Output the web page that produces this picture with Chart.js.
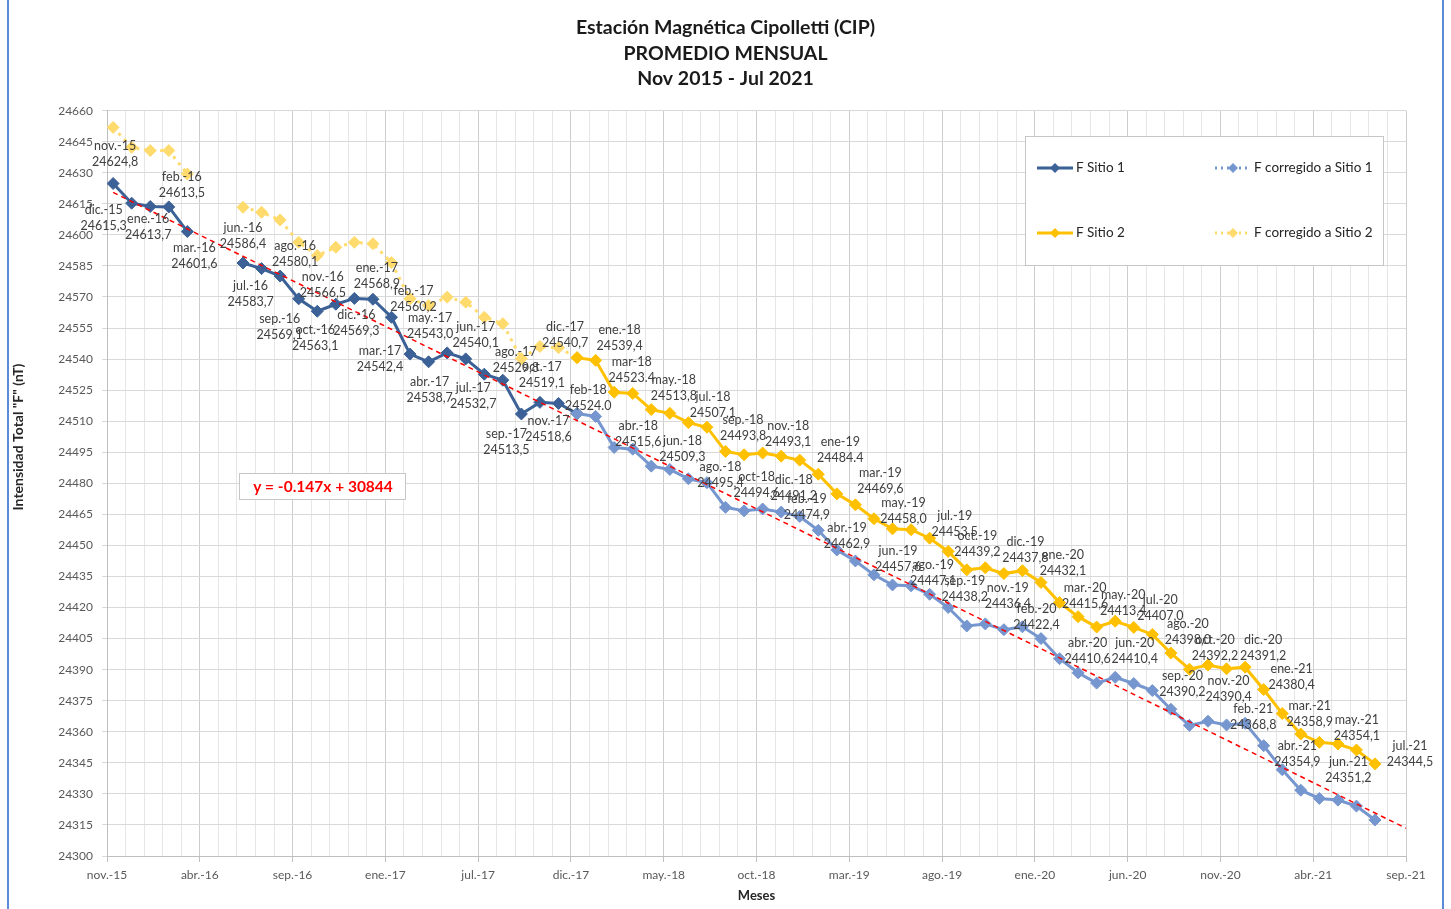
<!DOCTYPE html>
<html lang="es">
<head>
<meta charset="utf-8">
<title>Estación Magnética Cipolletti (CIP)</title>
<script src="https://cdn.jsdelivr.net/npm/chart.js@4.4.1/dist/chart.umd.min.js"></script>
<style>
  html, body { margin: 0; padding: 0; background: #fff; }
  #wrap { position: relative; width: 1451px; height: 909px; overflow: hidden; }
  #frame {
    position: absolute; left: 7px; top: -3px; width: 1437px; height: 915px;
    border: 2px solid #5b8bd6; box-sizing: border-box; pointer-events: none;
  }
</style>
</head>
<body>
<div id="wrap">
  <canvas id="chart" width="1451" height="909"></canvas>
  <div id="frame"></div>
</div>
<script>
// x axis tick labels (every 5 months, starting nov.-15)
const tickLabels = ['nov.-15', 'abr.-16', 'sep.-16', 'ene.-17', 'jul.-17', 'dic.-17', 'may.-18',
  'oct.-18', 'mar.-19', 'ago.-19', 'ene.-20', 'jun.-20', 'nov.-20', 'abr.-21', 'sep.-21'];

// month names used in the point labels (nov.-15 .. jul.-21)
const months = ['nov.-15', 'dic.-15', 'ene.-16', 'feb.-16', 'mar.-16', 'abr.-16', 'may.-16', 'jun.-16',
  'jul.-16', 'ago.-16', 'sep.-16', 'oct.-16', 'nov.-16', 'dic.-16', 'ene.-17', 'feb.-17', 'mar.-17',
  'abr.-17', 'may.-17', 'jun.-17', 'jul.-17', 'ago.-17', 'sep.-17', 'oct.-17', 'nov.-17', 'dic.-17',
  'ene.-18', 'feb-18', 'mar-18', 'abr.-18', 'may.-18', 'jun.-18', 'jul.-18', 'ago.-18', 'sep.-18',
  'oct-18', 'nov.-18', 'dic.-18', 'ene-19', 'feb.-19', 'mar.-19', 'abr.-19', 'may.-19', 'jun.-19',
  'jul.-19', 'ago.-19', 'sep.-19', 'oct.-19', 'nov.-19', 'dic.-19', 'ene.-20', 'feb.-20', 'mar.-20',
  'abr.-20', 'may.-20', 'jun.-20', 'jul.-20', 'ago.-20', 'sep.-20', 'oct.-20', 'nov.-20', 'dic.-20',
  'ene.-21', 'feb.-21', 'mar.-21', 'abr.-21', 'may.-21', 'jun.-21', 'jul.-21'];

const N = null;
const sitio1 = [24624.8, 24615.3, 24613.7, 24613.5, 24601.6, N, N, 24586.4, 24583.7, 24580.1,
  24569.1, 24563.1, 24566.5, 24569.3, 24568.9, 24560.2, 24542.4, 24538.7, 24543.0, 24540.1,
  24532.7, 24529.8, 24513.5, 24519.1, 24518.6, 24513.7];

const corregido2 = [24651.9, 24642.3, 24640.7, 24640.7, 24629.4, N, N, 24613.3, 24610.9, 24607.2,
  24596.4, 24590.0, 24594.0, 24596.4, 24595.7, 24586.6, 24569.1, 24565.9, 24569.9, 24567.5,
  24560.2, 24557.1, 24540.2, 24546.1, 24545.5, 24540.7];

const sitio2 = [N, N, N, N, N, N, N, N, N, N, N, N, N, N, N, N, N, N, N, N, N, N, N, N, N,
  24540.7, 24539.4, 24524.0, 24523.4, 24515.6, 24513.8, 24509.3, 24507.1, 24495.4, 24493.8,
  24494.6, 24493.1, 24491.2, 24484.4, 24474.9, 24469.6, 24462.9, 24458.0, 24457.6, 24453.5,
  24447.1, 24438.2, 24439.2, 24436.4, 24437.8, 24432.1, 24422.4, 24415.6, 24410.6, 24413.4,
  24410.4, 24407.0, 24398.0, 24390.2, 24392.2, 24390.4, 24391.2, 24380.4, 24368.8, 24358.9,
  24354.9, 24354.1, 24351.2, 24344.5];

const corregido1 = [N, N, N, N, N, N, N, N, N, N, N, N, N, N, N, N, N, N, N, N, N, N, N, N, N,
  24513.7, 24512.3, 24497.3, 24496.5, 24488.3, 24486.7, 24482.2, 24480.3, 24468.4, 24466.7,
  24467.6, 24466.1, 24464.0, 24457.3, 24447.8, 24442.5, 24435.8, 24430.9, 24430.5, 24426.4,
  24420.0, 24411.1, 24412.1, 24409.3, 24410.7, 24405.0, 24395.3, 24388.5, 24383.5, 24386.3,
  24383.3, 24379.9, 24370.9, 24363.1, 24365.1, 24363.3, 24364.1, 24353.3, 24341.7, 24331.8,
  24327.8, 24327.0, 24324.1, 24317.4];

// linear trend (y = -0.147x + 30844), read at its two ends
const trendX = [0.33, 70];
const trendY = [24620.5, 24313.4];

// labels written with a dot instead of a comma in the original
const dotDecimal = [27, 28, 38];

// label block centre relative to its point [dx, dy] in px
const labelOffsets = [[2, -30], [-28, 15], [-2, 20], [13, -22], [7, 24], null, null, [0, -27],
  [-11, 25], [15, -22], [-19, 28], [-2, 27], [-13, -19], [2, 25], [4, -23], [22, -18], [-30, 5],
  [1, 28], [-17, -27], [10, -24], [-11, 22], [13, -20], [-15, 28], [2, -27], [-10, 26],
  [-12, -23], [24, -22], [-26, 6], [-1, -23], [-13, 24], [4, -25], [-6, 26], [6, -22], [-5, 24],
  [-1, -27], [-6, 32], [7, -22], [-6, 28], [22, -24], [-30, 13], [25, -24], [-27, 17], [11, -18],
  [-13, 29], [25, -14], [-15, 22], [-2, 19], [-8, -24], [4, 22], [3, -21], [22, -20], [-23, 14],
  [7, -21], [-9, 24], [8, -18], [1, 24], [8, -26], [17, -21], [-7, 15], [7, -17], [2, 20],
  [18, -19], [28, -13], [-29, 3], [9, -20], [-22, 12], [19, -16], [-8, 20], [35, -10]];

const dayOffset = 0.33; // points sit a little after the start of each month
const FONT = 'Lato, "Open Sans", sans-serif';

const toPoints = arr => arr.map((v, i) => ({ x: i + dayOffset, y: v }));

const colSitio1 = '#3b6196';
const colCorr1 = '#7696cf';
const colSitio2 = '#ffc000';
const colCorr2 = '#ffdb6e';

const pointLabels = {
  id: 'pointLabels',
  afterDatasetsDraw(chart) {
    const { ctx, scales: { x, y } } = chart;
    ctx.save();
    ctx.font = '12.5px ' + FONT;
    ctx.fillStyle = '#404040';
    ctx.textAlign = 'center';
    ctx.textBaseline = 'middle';
    months.forEach((m, i) => {
      const v = sitio2[i] ?? sitio1[i];
      const off = labelOffsets[i];
      if (v == null || !off) return;
      const px = x.getPixelForValue(i + dayOffset) + off[0];
      const py = y.getPixelForValue(v) + off[1];
      let txt = v.toFixed(1);
      if (!dotDecimal.includes(i)) txt = txt.replace('.', ',');
      ctx.fillText(m, px, py - 8);
      ctx.fillText(txt, px, py + 8);
    });
    ctx.restore();
  }
};

function diamond(ctx, cx, cy, r, col) {
  ctx.beginPath();
  ctx.moveTo(cx, cy - r);
  ctx.lineTo(cx + r, cy);
  ctx.lineTo(cx, cy + r);
  ctx.lineTo(cx - r, cy);
  ctx.closePath();
  ctx.fillStyle = col;
  ctx.fill();
}

const extras = {
  id: 'extras',
  afterDraw(chart) {
    const ctx = chart.ctx;
    ctx.save();

    // legend box
    ctx.fillStyle = '#fff';
    ctx.fillRect(1025, 136, 358, 129);
    ctx.strokeStyle = '#c6c6c6';
    ctx.lineWidth = 1;
    ctx.strokeRect(1025.5, 136.5, 358, 129);
    const items = [
      { x: 1037, y: 168, col: colSitio1, dash: [], text: 'F Sitio 1' },
      { x: 1215, y: 168, col: colCorr1, dash: [2, 4], text: 'F corregido a Sitio 1' },
      { x: 1037, y: 233, col: colSitio2, dash: [], text: 'F Sitio 2' },
      { x: 1215, y: 233, col: colCorr2, dash: [2, 4], text: 'F corregido a Sitio 2' }
    ];
    items.forEach(it => {
      ctx.strokeStyle = it.col;
      ctx.lineWidth = 3;
      ctx.setLineDash(it.dash);
      ctx.beginPath();
      ctx.moveTo(it.x, it.y);
      ctx.lineTo(it.x + 36, it.y);
      ctx.stroke();
      ctx.setLineDash([]);
      diamond(ctx, it.x + 18, it.y, 5, it.col);
      ctx.fillStyle = '#262626';
      ctx.font = '13.5px ' + FONT;
      ctx.textAlign = 'left';
      ctx.textBaseline = 'middle';
      ctx.fillText(it.text, it.x + 39, it.y);
    });

    // trend equation
    ctx.fillStyle = '#fff';
    ctx.fillRect(239, 473, 166, 26);
    ctx.strokeStyle = '#c6c6c6';
    ctx.lineWidth = 1;
    ctx.strokeRect(239.5, 473.5, 166, 26);
    ctx.fillStyle = '#ff0000';
    ctx.font = 'bold 15.5px ' + FONT;
    ctx.textAlign = 'center';
    ctx.textBaseline = 'middle';
    ctx.fillText('y = -0.147x + 30844', 323, 487);

    // y axis title
    ctx.translate(18, 437);
    ctx.rotate(-Math.PI / 2);
    ctx.fillStyle = '#262626';
    ctx.font = 'bold 14px ' + FONT;
    ctx.fillText('Intensidad Total "F" (nT)', 0, 0);
    ctx.restore();
  }
};

const markers = { pointStyle: 'rectRot', pointRadius: 6, pointBorderWidth: 1, borderWidth: 3 };

new Chart(document.getElementById('chart'), {
  type: 'line',
  data: {
    datasets: [
      Object.assign({ label: 'F Sitio 1', data: toPoints(sitio1), borderColor: colSitio1,
        backgroundColor: colSitio1, pointBorderColor: colSitio1, order: 3 }, markers),
      Object.assign({ label: 'F corregido a Sitio 1', data: toPoints(corregido1), borderColor: colCorr1,
        backgroundColor: colCorr1, pointBorderColor: colCorr1, order: 2 }, markers),
      Object.assign({ label: 'F Sitio 2', data: toPoints(sitio2), borderColor: colSitio2,
        backgroundColor: colSitio2, pointBorderColor: colSitio2, order: 2 }, markers),
      Object.assign({ label: 'F corregido a Sitio 2', data: toPoints(corregido2), borderColor: colCorr2,
        backgroundColor: colCorr2, pointBorderColor: colCorr2, borderDash: [3, 5], order: 4 }, markers),
      {
        label: 'Tendencia',
        data: trendX.map((x, i) => ({ x, y: trendY[i] })),
        borderColor: '#ff0000',
        borderWidth: 1.5,
        borderDash: [5, 4],
        pointRadius: 0,
        order: 1
      }
    ]
  },
  options: {
    responsive: false,
    animation: false,
    spanGaps: false,
    layout: { padding: { left: 45, right: 45, top: 0, bottom: 0 } },
    scales: {
      x: {
        type: 'linear',
        min: 0,
        max: 70,
        afterFit: s => { s.height = 53; },
        ticks: {
          stepSize: 1,
          autoSkip: false,
          maxRotation: 0,
          padding: 6,
          color: '#595959',
          font: { family: FONT, size: 12 },
          callback: v => (v % 5 === 0 ? tickLabels[v / 5] : '')
        },
        grid: {
          color: c => (c.tick && c.tick.value % 5 === 0 ? '#cdcdcd' : '#e6e6e6'),
          tickColor: c => (c.tick && c.tick.value % 5 === 0 ? '#bfbfbf' : 'transparent'),
          tickLength: 6
        },
        border: { color: '#bfbfbf' },
        title: {
          display: true,
          text: 'Meses',
          color: '#262626',
          font: { family: FONT, size: 13, weight: 'bold' },
          padding: { top: 2, bottom: 5 }
        }
      },
      y: {
        min: 24300,
        max: 24660,
        afterFit: s => { s.width = 62; },
        ticks: {
          stepSize: 15,
          padding: 9,
          color: '#595959',
          font: { family: FONT, size: 12 },
          callback: v => String(v)
        },
        grid: { color: '#d9d9d9', tickLength: 5 },
        border: { color: '#bfbfbf' }
      }
    },
    plugins: {
      legend: { display: false },
      tooltip: { enabled: false },
      title: {
        display: true,
        text: ['Estación Magnética Cipolletti (CIP)', 'PROMEDIO MENSUAL', 'Nov 2015 - Jul 2021'],
        color: '#1a1a1a',
        font: { family: FONT, size: 19.5, weight: 'bold', lineHeight: 1.31 },
        padding: { top: 15, bottom: 19 }
      }
    }
  },
  plugins: [pointLabels, extras]
});
</script>
</body>
</html>
